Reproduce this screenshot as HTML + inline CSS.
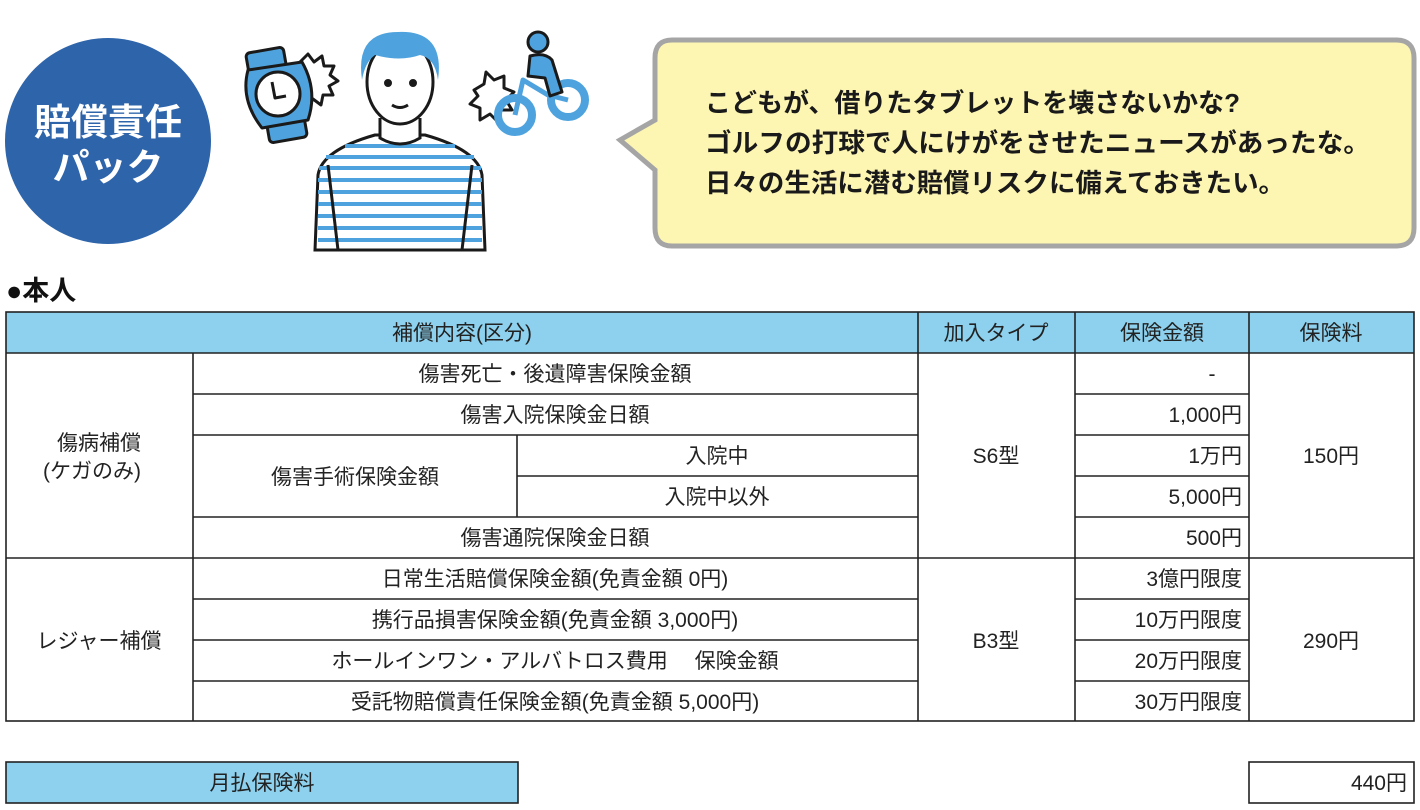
<!DOCTYPE html>
<html><head><meta charset="utf-8"><style>
html,body{margin:0;padding:0;background:#fff;}
svg{display:block;}
text{font-family:"Liberation Sans","Noto Sans CJK JP",sans-serif;}
</style></head><body>
<svg width="1420" height="810" viewBox="0 0 1420 810" xmlns="http://www.w3.org/2000/svg">
<circle cx="108" cy="141" r="103" fill="#2e64aa"/>
<text x="108" y="135" font-size="37" font-weight="bold" fill="#fff" text-anchor="middle">賠償責任</text>
<text x="108" y="180" font-size="37" font-weight="bold" fill="#fff" text-anchor="middle">パック</text>

<!-- watch -->
<g stroke="#1a1a1a" stroke-width="3" stroke-linejoin="round">
<path d="M300 62 l8 -8 l6 8 l8 -6 l2 10 l10 0 l-4 9 l8 6 l-9 5 l4 9 l-10 0 l-2 10 l-8 -6 l-5 8 z" fill="#fff"/>
<rect x="247" y="50" width="38" height="20" rx="4" fill="#4ea3de" transform="rotate(-10 266 60)"/>
<rect x="268" y="120" width="38" height="20" rx="4" fill="#4ea3de" transform="rotate(-10 287 130)"/>
<path d="M248 70 Q240 100 262 128 L308 120 Q318 90 302 62 Z" fill="#4ea3de"/>
<circle cx="278" cy="94" r="22" fill="#fff"/>
<path d="M272 82 L275 98 L286 96" fill="none"/>
</g>
<!-- person -->
<g stroke="#1a1a1a" stroke-width="3">
<path d="M315 250 L318 175 Q322 150 375 135 L425 135 Q478 150 482 175 L485 250 Z" fill="#fff"/>
<g stroke="#4ea3de" stroke-width="4">
<line x1="345" y1="146" x2="455" y2="146"/><line x1="326" y1="157" x2="474" y2="157"/>
<line x1="319" y1="168" x2="481" y2="168"/><line x1="318" y1="180" x2="482" y2="180"/>
<line x1="318" y1="192" x2="482" y2="192"/><line x1="318" y1="204" x2="482" y2="204"/>
<line x1="318" y1="216" x2="482" y2="216"/><line x1="318" y1="228" x2="482" y2="228"/>
<line x1="318" y1="240" x2="482" y2="240"/>
</g>
<path d="M328 165 L338 250 M472 165 L462 250" fill="none"/>
<path d="M380 118 L380 138 Q400 150 420 138 L420 118" fill="#fff"/>
<ellipse cx="400" cy="82" rx="33" ry="42" fill="#fff"/>
<path d="M362 80 Q355 32 398 32 Q445 30 438 80 Q435 58 420 55 Q400 62 375 55 Q365 62 362 80 Z" fill="#4ea3de" stroke="none"/>
<circle cx="388" cy="83" r="2.5" fill="#1a1a1a"/><circle cx="413" cy="83" r="2.5" fill="#1a1a1a"/>
<path d="M392 105 Q400 110 408 105" fill="none"/>
</g>
<!-- bike -->
<g stroke="#1a1a1a" stroke-width="3" stroke-linejoin="round">
<path d="M474 90 l10 -6 l2 -12 l8 8 l10 -4 l0 12 l10 4 l-8 8 l6 10 l-12 0 l-2 12 l-8 -8 l-10 6 l0 -12 l-10 -4 l8 -8 z" fill="#fff"/>
<circle cx="515" cy="115" r="17" fill="none" stroke="#4ea3de" stroke-width="8"/>
<circle cx="568" cy="100" r="17" fill="none" stroke="#4ea3de" stroke-width="8"/>
<path d="M515 115 L523 80 L548 95 L568 100" fill="none" stroke="#4ea3de" stroke-width="5"/>
<circle cx="538" cy="42" r="10" fill="#4ea3de"/>
<path d="M530 56 Q545 52 552 60 L562 92 L550 96 L545 78 L528 76 Z" fill="#4ea3de"/>
</g>

<!-- bubble -->
<path d="M672 40 H1396 Q1414 40 1414 58 V228 Q1414 246 1396 246 H672 Q655 246 655 228 V170 L620 140 L655 120 V58 Q655 40 672 40 Z" fill="#fdf6b3" stroke="#a5a5a5" stroke-width="5"/>
<g font-size="26" font-weight="bold" fill="#1a1a1a">
<text x="705" y="112" textLength="535" lengthAdjust="spacingAndGlyphs">こどもが、借りたタブレットを壊さないかな?</text>
<text x="705" y="152" textLength="665" lengthAdjust="spacingAndGlyphs">ゴルフの打球で人にけがをさせたニュースがあったな。</text>
<text x="705" y="192" textLength="580" lengthAdjust="spacingAndGlyphs">日々の生活に潜む賠償リスクに備えておきたい。</text>
</g>

<text x="6" y="300" font-size="27" font-weight="bold" fill="#111">●本人</text>

<rect x="6" y="312" width="1408" height="41" fill="#8dd1ee"/>
<g stroke="#222" stroke-width="1.6" fill="none">
<rect x="6" y="312" width="1408" height="409"/>
<line x1="6" y1="353" x2="1414" y2="353"/>
<line x1="6" y1="558" x2="1414" y2="558"/>
<line x1="193" y1="353" x2="193" y2="721"/>
<line x1="918" y1="312" x2="918" y2="721"/>
<line x1="1075" y1="312" x2="1075" y2="721"/>
<line x1="1249" y1="312" x2="1249" y2="721"/>
<line x1="517" y1="435" x2="517" y2="517"/>
<line x1="193" y1="394" x2="918" y2="394"/>
<line x1="193" y1="435" x2="918" y2="435"/>
<line x1="517" y1="476" x2="918" y2="476"/>
<line x1="193" y1="517" x2="918" y2="517"/>
<line x1="193" y1="599" x2="918" y2="599"/>
<line x1="193" y1="640" x2="918" y2="640"/>
<line x1="193" y1="681" x2="918" y2="681"/>
<line x1="1075" y1="394" x2="1249" y2="394"/>
<line x1="1075" y1="435" x2="1249" y2="435"/>
<line x1="1075" y1="476" x2="1249" y2="476"/>
<line x1="1075" y1="517" x2="1249" y2="517"/>
<line x1="1075" y1="599" x2="1249" y2="599"/>
<line x1="1075" y1="640" x2="1249" y2="640"/>
<line x1="1075" y1="681" x2="1249" y2="681"/>
</g>
<g font-size="21" fill="#222" text-anchor="middle">
<text x="462" y="340">補償内容(区分)</text>
<text x="996" y="340">加入タイプ</text>
<text x="1162" y="340">保険金額</text>
<text x="1331" y="340">保険料</text>
<text x="555" y="381">傷害死亡・後遺障害保険金額</text>
<text x="555" y="422">傷害入院保険金日額</text>
<text x="355" y="484">傷害手術保険金額</text>
<text x="717" y="463">入院中</text>
<text x="717" y="504">入院中以外</text>
<text x="555" y="545">傷害通院保険金日額</text>
<text x="99" y="450">傷病補償</text>
<text x="92" y="478">(ケガのみ)</text>
<text x="996" y="463">S6型</text>
<text x="1331" y="463">150円</text>
<text x="1212" y="381">-</text>
<text x="99" y="648">レジャー補償</text>
<text x="555" y="586">日常生活賠償保険金額(免責金額  0円)</text>
<text x="555" y="627">携行品損害保険金額(免責金額  3,000円)</text>
<text x="555" y="668">ホールインワン・アルバトロス費用　 保険金額</text>
<text x="555" y="709">受託物賠償責任保険金額(免責金額  5,000円)</text>
<text x="996" y="648">B3型</text>
<text x="1331" y="648">290円</text>
</g>
<g font-size="21" fill="#222" text-anchor="end">
<text x="1242" y="422">1,000円</text>
<text x="1242" y="463">1万円</text>
<text x="1242" y="504">5,000円</text>
<text x="1242" y="545">500円</text>
<text x="1242" y="586">3億円限度</text>
<text x="1242" y="627">10万円限度</text>
<text x="1242" y="668">20万円限度</text>
<text x="1242" y="709">30万円限度</text>
</g>

<rect x="6" y="762" width="512" height="41" fill="#8dd1ee" stroke="#222" stroke-width="1.6"/>
<rect x="1249" y="762" width="165" height="41" fill="#fff" stroke="#222" stroke-width="1.6"/>
<text x="262" y="790" font-size="21" fill="#222" text-anchor="middle">月払保険料</text>
<text x="1407" y="790" font-size="21" fill="#222" text-anchor="end">440円</text>
</svg>
</body></html>
